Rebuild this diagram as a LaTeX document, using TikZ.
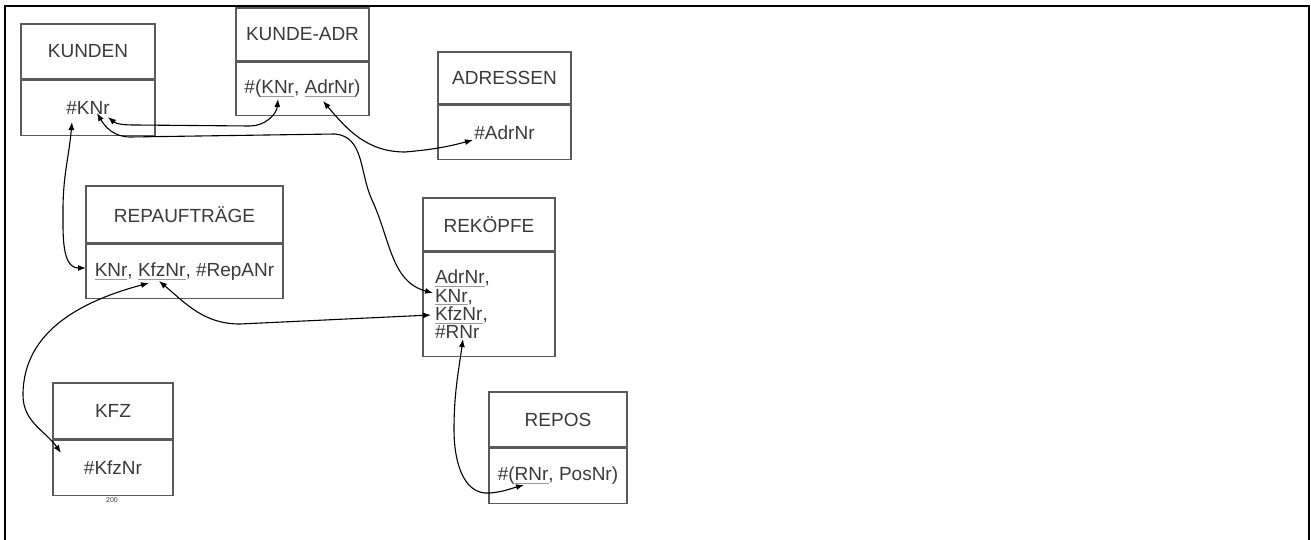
\documentclass[tikz,border=0pt]{standalone}
\usepackage{fontspec}
\setmainfont{Liberation Sans}
\usetikzlibrary{positioning,arrows.meta}

\definecolor{boxgray}{HTML}{5A5A5A}
\definecolor{txtgray}{HTML}{3A3A3A}
\definecolor{ulgray}{HTML}{9A9A9A}

\newcommand{\keyf}[1]{\leavevmode\setbox0=\hbox{#1}\rlap{\color{ulgray}\rule[-1.6pt]{\wd0}{0.5pt}}\box0}

\tikzset{
  part/.style={draw=boxgray, line width=0.7pt, text=txtgray, inner sep=0pt,
    font=\fontsize{9.5}{11}\selectfont},
  link/.style={{Latex[length=4pt,width=3pt]}-{Latex[length=4pt,width=3pt]}, line width=0.55pt},
}

\begin{document}
\begin{tikzpicture}[x=0.5pt,y=0.5pt]
                \useasboundingbox (0,0) rectangle (1311,-540);

                % Frame
                \draw[line width=1pt] (5,-540) -- (5,-6) -- (628,-6);
                \draw[line width=1.2pt] (628,-6) -- (1309,-6) -- (1309,-540);

                % Tables
                \node[part, minimum width=67pt, minimum height=27.5pt] (kunden) at (88,-51.5) {KUNDEN};
                \node[part, minimum width=67pt, minimum height=27.5pt, below=0pt of kunden] (kundenA) {\#KNr};

                \node[part, minimum width=66.5pt, minimum height=26.5pt] (kundeadr) at (302.5,-34.5) {KUNDE-ADR};
                \node[part, minimum width=66.5pt, minimum height=26.5pt, below=0pt of kundeadr] (kundeadrA) {\#(\keyf{KNr}, \keyf{AdrNr})};

                \node[part, minimum width=66.5pt, minimum height=26pt] (adressen) at (504.5,-78) {ADRESSEN};
                \node[part, minimum width=66.5pt, minimum height=27pt, below=0pt of adressen] (adressenA) {\#AdrNr};

                \node[part, minimum width=98.5pt, minimum height=28.5pt] (repauf) at (184.5,-214.5) {REPAUFTRÄGE};
                \node[part, minimum width=98.5pt, minimum height=27pt, below=0pt of repauf] (repaufA) {\keyf{KNr}, \keyf{KfzNr}, \#RepANr};

                \node[part, minimum width=66pt, minimum height=26.5pt] (rekoepfe) at (489,-224.5) {REKÖPFE};
                \node[part, text width=54pt, inner xsep=6pt, minimum height=52pt, align=left,
                  font=\fontsize{9.5}{9.2}\selectfont, below=0pt of rekoepfe] (rekoepfeA)
                  {\keyf{AdrNr},\\ \keyf{KNr},\\ \keyf{KfzNr},\\ \#RNr};

                \node[part, minimum width=60pt, minimum height=28pt] (kfz) at (113,-411) {KFZ};
                \node[part, minimum width=60pt, minimum height=27.5pt, below=0pt of kfz] (kfzA) {\#KfzNr};
                \node[text=txtgray, font=\fontsize{3.5}{4}\selectfont, inner sep=0pt] (pagenr) at (112,-500) {200};

                \node[part, minimum width=69pt, minimum height=27.5pt] (repos) at (558,-419.5) {REPOS};
                \node[part, minimum width=69pt, minimum height=27.5pt, below=0pt of repos] (reposA) {\#(\keyf{RNr}, PosNr)};

                % Key fields
                \coordinate (kdA) at (108,-117);
                \coordinate (kdB) at (97,-113);
                \coordinate (kdC) at (72,-122);
                \coordinate (kaK) at (278,-99);
                \coordinate (kaA) at (323,-101);
                \coordinate (adA) at (473,-140);
                \coordinate (raK) at (86,-268);
                \coordinate (raF1) at (159,-281);
                \coordinate (raF2) at (149,-283);
                \coordinate (rkK) at (433,-293);
                \coordinate (rkF) at (431,-315);
                \coordinate (rkR) at (463,-339);
                \coordinate (kzF) at (61,-453);
                \coordinate (rpR) at (524,-485);

                % Links
                \draw[link] (kdA) to[out=-40,in=180] (135,-125) -- (250,-126) to[out=0,in=-95] (kaK);
                \draw[link] (kaA) to[out=-50,in=180] (405,-152) to[out=5,in=195] (adA);
                \draw[link] (kdB) to[out=-60,in=180] (130,-137) -- (335,-134) to[out=-5,in=115] (372,-200) to[out=-65,in=165] (rkK);
                \draw[link] (kdC) to[out=-95,in=90] (63,-210) to[out=-90,in=180] (raK);
                \draw[link] (raF1) to[out=-40,in=180] (240,-324) -- (rkF);
                \draw[link] (raF2) to[out=195,in=90] (23,-395) to[out=-90,in=125] (kzF);
                \draw[link] (rkR) to[out=-98,in=90] (454,-430) to[out=-90,in=185] (490,-493) to[out=5,in=195] (rpR);
            \end{tikzpicture}
\end{document}
